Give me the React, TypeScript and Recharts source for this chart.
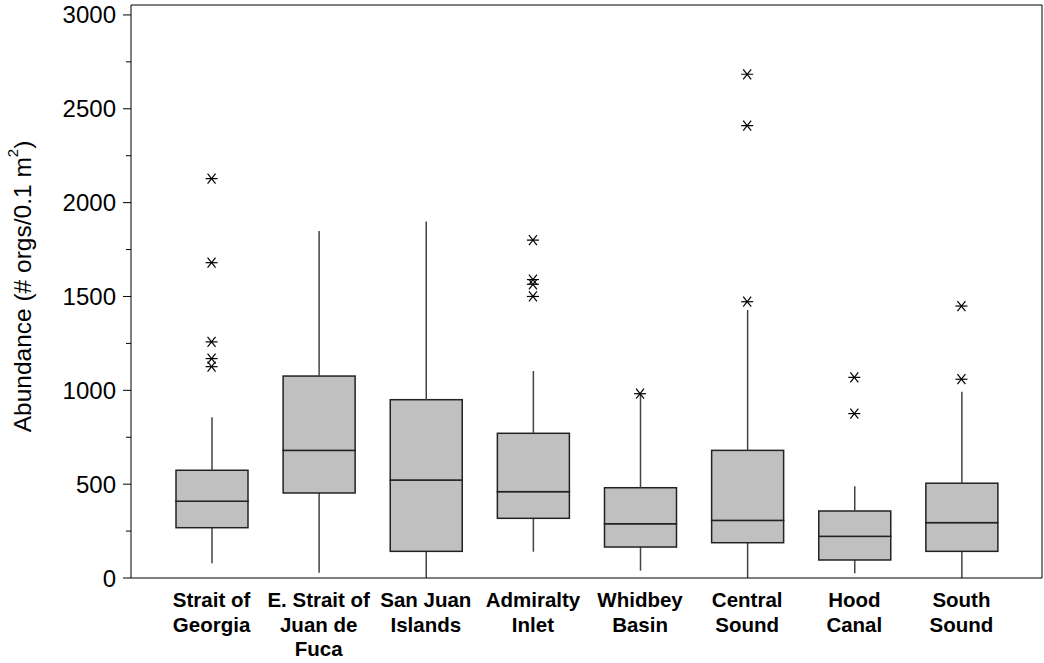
import React from 'react';
import { ComposedChart, Bar, Scatter, XAxis, YAxis, Label, CartesianGrid } from 'recharts';

// sites along the x axis, with the label lines as printed
const sites = ['Strait of Georgia', 'E. Strait of Juan de Fuca', 'San Juan Islands', 'Admiralty Inlet', 'Whidbey Basin', 'Central Sound', 'Hood Canal', 'South Sound'];
const siteLines = [
  ['Strait of', 'Georgia'],
  ['E. Strait of', 'Juan de', 'Fuca'],
  ['San Juan', 'Islands'],
  ['Admiralty', 'Inlet'],
  ['Whidbey', 'Basin'],
  ['Central', 'Sound'],
  ['Hood', 'Canal'],
  ['South', 'Sound'],
];

// box plot statistics (# orgs / 0.1 m2)
const whiskerLow = [78, 28, 0, 140, 39, 0, 25, 0];
const q1 = [268, 453, 142, 318, 165, 188, 96, 142];
const median = [409, 680, 522, 460, 289, 307, 222, 295];
const q3 = [574, 1076, 950, 771, 481, 680, 357, 505];
const whiskerHigh = [856, 1849, 1899, 1103, 975, 1428, 489, 993];
const outliers = [
  [2128, 1680, 1258, 1169, 1126],
  [],
  [],
  [1800, 1590, 1565, 1500],
  [982],
  [2684, 2410, 1472],
  [1069, 876],
  [1449, 1059],
];

const yTicks = [0, 250, 500, 750, 1000, 1250, 1500, 1750, 2000, 2250, 2500, 2750, 3000];
const outlierKeys = ['o1', 'o2', 'o3', 'o4', 'o5'];

const data = sites.map((name, i) => {
  const row: any = {
    name,
    base: whiskerLow[i],
    lowW: q1[i] - whiskerLow[i],
    lowBox: median[i] - q1[i],
    upBox: q3[i] - median[i],
    upW: whiskerHigh[i] - q3[i],
  };
  outlierKeys.forEach((k, j) => {
    row[k] = outliers[i][j] ?? null;
  });
  return row;
});

const FONT = '"Liberation Sans", Arial, sans-serif';

const Whisker = (props: any) => {
  const { x, y, width, height } = props;
  if (!height) return null;
  const cx = x + width / 2;
  return <line x1={cx} x2={cx} y1={y} y2={y + height} stroke="#444" strokeWidth={1.5} />;
};

const BoxPart = (props: any) => {
  const { x, y, width, height } = props;
  return <rect x={x} y={y} width={width} height={Math.max(height, 0)} fill="#c0c0c0" stroke="#222" strokeWidth={1.5} />;
};

const Star = (props: any) => {
  const { cx, cy } = props;
  if (cy == null || !isFinite(cy)) return null;
  return (
    <g stroke="#000" strokeWidth={1.2}>
      <line x1={cx - 6} x2={cx + 6} y1={cy} y2={cy} />
      <line x1={cx - 4} x2={cx + 4} y1={cy - 5} y2={cy + 5} />
      <line x1={cx - 4} x2={cx + 4} y1={cy + 5} y2={cy - 5} />
    </g>
  );
};

const YTick = (props: any) => {
  const { x, y, payload } = props;
  const major = payload.value % 500 === 0;
  return (
    <g>
      <line x1={x - (major ? 8 : 5)} x2={x} y1={y} y2={y} stroke="#000" />
      {major && (
        <text x={x - 15} y={y} dy={8.5} textAnchor="end" fontSize={24} fontFamily={FONT} fill="#000">
          {payload.value}
        </text>
      )}
    </g>
  );
};

const XTick = (props: any) => {
  const { x, y, payload } = props;
  const idx = sites.indexOf(payload.value);
  const lines = siteLines[idx] || [payload.value];
  return (
    <text x={x} y={y + 29} textAnchor="middle" fontSize={20.5} fontWeight="bold" fontFamily={FONT} fill="#000">
      {lines.map((l, i) => (
        <tspan key={i} x={x} dy={i === 0 ? 0 : 24.5}>{l}</tspan>
      ))}
    </text>
  );
};

const YTitle = (props: any) => {
  const { viewBox } = props;
  const cx = viewBox.x + 22;
  const cy = viewBox.y + viewBox.height / 2 - 5;
  return (
    <text x={cx} y={cy} transform={`rotate(-90, ${cx}, ${cy})`} textAnchor="middle" dominantBaseline="central" fontSize={24.5} fontFamily={FONT} fill="#000">
      Abundance (# orgs/0.1 m<tspan fontSize={15} dy={-10}>2</tspan><tspan dy={10}>)</tspan>
    </text>
  );
};

export default function App() {
  return (
    <div style={{ position: 'absolute', left: 0, top: 0, background: '#fff' }}>
      <ComposedChart width={1044} height={663} data={data} margin={{ top: 5, right: 2, left: 0, bottom: 0 }}>
        {/* top and right edges of the frame */}
        <CartesianGrid
          stroke="#000"
          strokeDasharray=""
          horizontalCoordinatesGenerator={({ offset }: any) => [offset.top]}
          verticalCoordinatesGenerator={({ offset }: any) => [offset.left + offset.width]}
        />
        <XAxis
          dataKey="name"
          height={85}
          padding={{ left: 27, right: 27 }}
          tickLine={false}
          tickSize={0}
          tickMargin={0}
          axisLine={{ stroke: '#000' }}
          tick={<XTick />}
          interval={0}
        />
        <YAxis
          width={131}
          domain={[0, 3053]}
          ticks={yTicks}
          interval={0}
          allowDataOverflow
          tickLine={false}
          tickSize={0}
          tickMargin={0}
          axisLine={{ stroke: '#000' }}
          tick={<YTick />}
        >
          <Label content={<YTitle />} />
        </YAxis>
        <Bar dataKey="base" stackId="box" fill="none" barSize={72} isAnimationActive={false} />
        <Bar dataKey="lowW" stackId="box" barSize={72} shape={<Whisker />} isAnimationActive={false} />
        <Bar dataKey="lowBox" stackId="box" barSize={72} shape={<BoxPart />} isAnimationActive={false} />
        <Bar dataKey="upBox" stackId="box" barSize={72} shape={<BoxPart />} isAnimationActive={false} />
        <Bar dataKey="upW" stackId="box" barSize={72} shape={<Whisker />} isAnimationActive={false} />
        {outlierKeys.map((k) => (
          <Scatter key={k} dataKey={k} shape={<Star />} isAnimationActive={false} />
        ))}
      </ComposedChart>
    </div>
  );
}
